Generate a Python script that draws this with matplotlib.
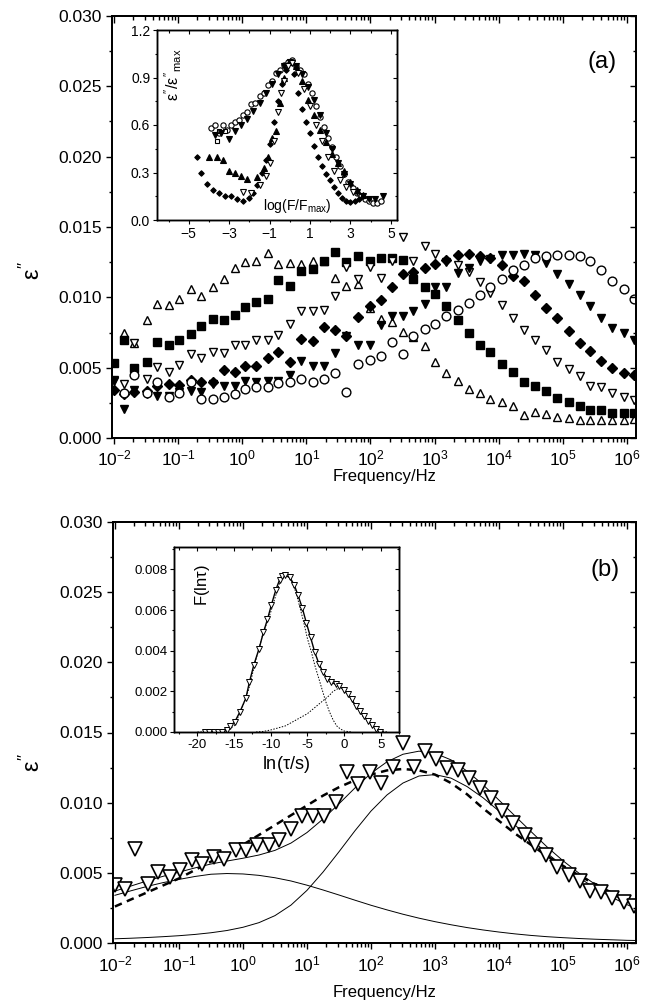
import numpy as np
import matplotlib
matplotlib.use('Agg')
import matplotlib.pyplot as plt
from matplotlib.ticker import MultipleLocator, LogLocator, NullFormatter, FixedLocator

plt.rcParams['font.family'] = ['Liberation Sans', 'DejaVu Sans']
plt.rcParams['mathtext.fontset'] = 'custom'
plt.rcParams['mathtext.rm'] = 'Liberation Sans'
plt.rcParams['mathtext.it'] = 'Liberation Sans'
plt.rcParams['mathtext.bf'] = 'Liberation Sans:bold'

# ---------------- data: panel (a) ----------------
LOGF = [-2.00, -1.85, -1.68, -1.49, -1.33, -1.14, -0.98, -0.80, -0.64, -0.46,
        -0.29, -0.11, 0.05, 0.22, 0.40, 0.56, 0.75, 0.92, 1.10, 1.27,
        1.45, 1.62, 1.80, 1.99, 2.16, 2.34, 2.50, 2.67, 2.85, 3.01,
        3.18, 3.36, 3.53, 3.71, 3.87, 4.05, 4.22, 4.40, 4.56, 4.74,
        4.91, 5.09, 5.26, 5.42, 5.60, 5.77, 5.95, 6.11]
XTICK_DECADES = [-2, -1, 0, 1, 2, 3, 4, 5, 6]

UP_OPEN = [None, 0.00746, 0.00675, 0.00841, 0.00955, 0.00948, 0.00991, 0.01059, 0.01012, 0.01073,
           0.01133, 0.01209, 0.01249, 0.01261, 0.01315, 0.01237, 0.01244, 0.01237, 0.01261, 0.01261,
           0.01137, 0.01083, 0.01097, 0.00922, 0.00846, 0.00822, 0.00751, 0.00718, 0.00656, 0.00538,
           0.00462, 0.00408, 0.00348, 0.00320, 0.00280, 0.00256, 0.00225, 0.00166, 0.00185, 0.00171,
           0.00149, 0.00142, 0.00130, 0.00126, 0.00126, 0.00126, 0.00130, 0.00137]

SQ_FILLED = [0.00533, 0.00694, 0.00498, 0.00538, 0.00680, 0.00659, 0.00699, 0.00742, 0.00799, 0.00848,
             0.00841, 0.00877, 0.00931, 0.00967, 0.00991, 0.01126, 0.01078, 0.01190, 0.01204, 0.01256,
             0.01320, 0.01249, 0.01296, 0.01256, 0.01280, 0.01280, 0.01263, 0.01130, 0.01073, 0.01024,
             0.00936, 0.00841, 0.00746, 0.00664, 0.00609, 0.00526, 0.00467, 0.00398, 0.00372, 0.00336,
             0.00284, 0.00254, 0.00225, 0.00201, 0.00197, 0.00178, 0.00178, 0.00178]

DOWN_OPEN = [0.00413, 0.00384, 0.00672, 0.00417, 0.00507, 0.00472, 0.00519, 0.00594, 0.00566, 0.00613,
             0.00601, 0.00660, 0.00660, 0.00700, 0.00700, 0.00731, 0.00809, 0.00903, 0.00903, 0.00908,
             0.01007, 0.01219, 0.01132, 0.01219, 0.01139, 0.01255, 0.01427, 0.01255, 0.01368, 0.01309,
             0.01250, 0.01231, 0.01179, 0.01108, 0.01031, 0.00943, 0.00856, 0.00771, 0.00696, 0.00625,
             0.00542, 0.00488, 0.00441, 0.00370, 0.00361, 0.00323, 0.00295, 0.00267]

DIAMOND = [0.00344, 0.00313, 0.00325, 0.00332, 0.00367, 0.00384, 0.00379, 0.00415, 0.00396, 0.00396,
           0.00486, 0.00467, 0.00514, 0.00509, 0.00569, 0.00609, 0.00538, 0.00704, 0.00687, 0.00787,
           0.00770, 0.00723, 0.00860, 0.00941, 0.00983, 0.01073, 0.01168, 0.01180, 0.01209, 0.01237,
           0.01263, 0.01303, 0.01311, 0.01296, 0.01280, 0.01232, 0.01154, 0.01114, 0.01019, 0.00924,
           0.00853, 0.00758, 0.00675, 0.00616, 0.00545, 0.00498, 0.00462, 0.00450]

DOWN_FILLED = [0.00403, 0.00206, 0.00339, 0.00315, 0.00296, 0.00296, 0.00325, 0.00332, 0.00325, 0.00386,
               0.00367, 0.00367, 0.00403, 0.00396, 0.00403, 0.00403, 0.00450, 0.00545, 0.00509, 0.00509,
               0.00604, 0.00723, 0.00664, 0.00664, 0.00806, 0.00865, 0.00870, 0.00900, 0.00955, 0.01073,
               0.01073, 0.01170, 0.01209, 0.01256, 0.01273, 0.01303, 0.01303, 0.01311, 0.01303, 0.01244,
               0.01168, 0.01097, 0.01019, 0.00936, 0.00853, 0.00782, 0.00746, 0.00700]

CIRCLE = [None, 0.00320, 0.00450, 0.00320, 0.00400, 0.00290, 0.00320, 0.00400, 0.00280, 0.00280,
          0.00290, 0.00310, 0.00350, 0.00360, 0.00360, 0.00390, 0.00400, 0.00420, 0.00400, 0.00420,
          0.00460, 0.00330, 0.00528, 0.00557, 0.00581, 0.00680, 0.00600, 0.00723, 0.00775, 0.00813,
          0.00870, 0.00908, 0.00960, 0.01019, 0.01073, 0.01130, 0.01192, 0.01232, 0.01280, 0.01296,
          0.01303, 0.01303, 0.01296, 0.01256, 0.01197, 0.01118, 0.01059, 0.00991]

# inset (a): normalised curves
IA_CIRC_X = [-3.9, -3.7, -3.5, -3.3, -3.1, -2.9, -2.7, -2.5, -2.3, -2.1, -1.9, -1.7, -1.5, -1.3, -1.1,
             -0.9, -0.7, -0.5, -0.3, -0.1, 0.1, 0.3, 0.5, 0.7, 0.9, 1.1, 1.3, 1.5, 1.7, 1.9,
             2.1, 2.3, 2.5, 2.7, 2.9, 3.1, 3.3, 3.5, 3.7, 3.9, 4.1, 4.3, 4.5]
IA_CIRC_Y = [0.58, 0.60, 0.55, 0.60, 0.57, 0.60, 0.62, 0.63, 0.66, 0.68, 0.73, 0.74, 0.78, 0.80, 0.85,
             0.88, 0.93, 0.95, 0.98, 1.00, 1.01, 0.97, 0.95, 0.92, 0.86, 0.80, 0.72, 0.65, 0.59, 0.52,
             0.46, 0.40, 0.34, 0.29, 0.24, 0.20, 0.17, 0.15, 0.13, 0.12, 0.11, 0.11, 0.12]
IA_SQ_X = [-3.6, -3.5, -3.2]
IA_SQ_Y = [0.50, 0.56, 0.56]
IA_DF1_X = [-3.7, -3.4, -3.0, -2.7, -2.4, -2.1, -1.8, -1.5, -1.2, -0.9, -0.6, -0.3, 0.0, 0.3, 0.6,
            0.9, 1.2, 1.5, 1.8, 2.1, 2.4, 2.7, 3.0, 3.3, 3.6, 3.9, 4.2, 4.6]
IA_DF1_Y = [0.54, 0.55, 0.51, 0.56, 0.60, 0.64, 0.69, 0.74, 0.80, 0.86, 0.92, 0.97, 1.00, 0.97, 0.92,
            0.84, 0.76, 0.66, 0.55, 0.45, 0.36, 0.29, 0.23, 0.18, 0.15, 0.13, 0.13, 0.15]
IA_DIA_X = [-4.6, -4.4, -4.1, -3.8, -3.5, -3.2, -2.9, -2.6, -2.3, -2.0, -1.8, -1.6, -1.4, -1.2, -1.0,
            -0.8, -0.6, -0.4, -0.2, 0.0, 0.2, 0.4, 0.6, 0.8, 1.0, 1.2, 1.4, 1.6, 1.8, 2.0,
            2.2, 2.4, 2.6, 2.8, 3.0, 3.2, 3.4]
IA_DIA_Y = [0.40, 0.30, 0.23, 0.19, 0.17, 0.15, 0.15, 0.13, 0.12, 0.14, 0.17, 0.22, 0.30, 0.38, 0.48,
            0.62, 0.75, 0.86, 0.95, 1.00, 0.92, 0.80, 0.70, 0.62, 0.55, 0.47, 0.40, 0.34, 0.29, 0.25,
            0.21, 0.17, 0.14, 0.12, 0.115, 0.12, 0.13]
IA_UPF_X = [-4.0, -3.6, -3.3, -3.0, -2.7, -2.4, -2.1, -1.6, -1.3, -1.1, -0.9, -0.7, -0.5, -0.3, 0.0,
            0.3, 0.6, 0.9, 1.2, 1.5, 1.8, 2.1, 2.4, 2.7, 3.0, 3.3, 3.6]
IA_UPF_Y = [0.40, 0.40, 0.38, 0.31, 0.30, 0.28, 0.26, 0.27, 0.33, 0.40, 0.52, 0.56, 0.74, 0.90, 1.00,
            0.97, 0.88, 0.76, 0.66, 0.57, 0.49, 0.42, 0.36, 0.31, 0.24, 0.19, 0.16]
IA_DO_X = [-2.3, -1.9, -1.5, -1.2, -1.0, -0.8, -0.6, -0.45, -0.3, -0.1, 0.1, 0.4, 0.7, 1.0, 1.3,
           1.6, 1.9, 2.2, 2.5, 2.8, 3.1]
IA_DO_Y = [0.18, 0.17, 0.22, 0.28, 0.36, 0.50, 0.68, 0.80, 0.88, 0.97, 0.99, 0.93, 0.83, 0.72, 0.60,
           0.50, 0.40, 0.31, 0.25, 0.21, 0.18]

# ---------------- data: panel (b) ----------------
CURVE_LOGF = [-2.0, -1.75, -1.5, -1.25, -1.0, -0.75, -0.5, -0.25, 0.0, 0.25, 0.5, 0.75, 1.0,
              1.25, 1.5, 1.75, 2.0, 2.25, 2.5, 2.75, 3.0, 3.25, 3.5, 3.75, 4.0, 4.25, 4.5,
              4.75, 5.0, 5.25, 5.5, 5.75, 6.0, 6.14]
COMP_LOW = [0.00340, 0.00372, 0.00403, 0.00430, 0.00453, 0.00474, 0.00490, 0.00495, 0.00492, 0.00482,
            0.00465, 0.00442, 0.00412, 0.00378, 0.00342, 0.00305, 0.00269, 0.00236, 0.00205, 0.00177,
            0.00152, 0.00130, 0.00110, 0.00093, 0.00078, 0.00065, 0.00054, 0.00045, 0.00038, 0.00032,
            0.00027, 0.00023, 0.00019, 0.00018]
COMP_HIGH = [0.00030, 0.00034, 0.00039, 0.00045, 0.00052, 0.00061, 0.00073, 0.00089, 0.00112, 0.00145,
             0.00195, 0.00270, 0.00375, 0.00505, 0.00650, 0.00800, 0.00940, 0.01055, 0.01140, 0.01190,
             0.01200, 0.01175, 0.01115, 0.01035, 0.00940, 0.00840, 0.00740, 0.00640, 0.00548, 0.00465,
             0.00392, 0.00328, 0.00273, 0.00247]
FIT_SUM = [0.00370, 0.00406, 0.00442, 0.00475, 0.00505, 0.00535, 0.00563, 0.00584, 0.00604, 0.00627,
           0.00660, 0.00712, 0.00787, 0.00883, 0.00992, 0.01105, 0.01209, 0.01291, 0.01345, 0.01367,
           0.01352, 0.01305, 0.01225, 0.01128, 0.01018, 0.00905, 0.00794, 0.00685, 0.00586, 0.00497,
           0.00419, 0.00351, 0.00292, 0.00265]
FIT_SINGLE = [0.0026, 0.0031, 0.0036, 0.0041, 0.0046, 0.0052, 0.0058, 0.0064, 0.0070, 0.0077, 0.0084,
              0.0091, 0.0098, 0.0105, 0.0111, 0.0116, 0.0120, 0.0123, 0.0124, 0.0123, 0.0120, 0.0114,
              0.0106, 0.0096, 0.0087, 0.0078, 0.0070, 0.0062, 0.0055, 0.0048, 0.0042, 0.0036, 0.0031,
              0.0027]

IB_X = [-19.0, -18.4, -17.8, -17.2, -16.6, -16.0, -15.5, -14.9, -14.2, -13.4, -12.9, -12.3, -11.6,
        -11.0, -10.45, -9.9, -9.3, -8.8, -8.4, -8.0, -7.4, -6.8, -6.3, -5.7, -5.15, -4.56, -4.0,
        -3.43, -2.9, -2.3, -1.75, -1.16, -0.62, -0.05, 0.5, 1.05, 1.6, 2.15, 2.7, 3.3, 3.85, 4.4, 4.9]
IB_Y = [0.0, 0.0, 0.0, 0.0, 0.00002, 0.00008, 0.0003, 0.0005, 0.0010, 0.00166, 0.00247, 0.00331,
        0.00409, 0.0049, 0.00554, 0.00627, 0.0070, 0.00748, 0.00768, 0.0077, 0.00761, 0.00724,
        0.00675, 0.00611, 0.00538, 0.00465, 0.00393, 0.00336, 0.00296, 0.00263, 0.00247, 0.00234,
        0.00226, 0.00207, 0.00186, 0.0016, 0.00129, 0.00102, 0.00078, 0.00053, 0.00034, 0.00015, 0.00002]
IB_C1_X = [-20, -18, -17, -16, -15, -14, -13, -12, -11, -10, -9, -8.5, -8, -7.5, -7, -6.5, -6, -5.5,
           -5, -4.5, -4, -3.5, -3, -2.5, -2, -1.5, -1, -0.5, 0, 1]
IB_C1_Y = [0.0, 0.0, 0.00001, 0.00008, 0.0003, 0.0011, 0.0021, 0.0036, 0.0049, 0.0059, 0.0071, 0.0076,
           0.0077, 0.0076, 0.0073, 0.0068, 0.0061, 0.0054, 0.0046, 0.0040, 0.0033, 0.0027, 0.0021,
           0.0015, 0.0010, 0.0006, 0.0003, 0.00015, 0.00005, 0.0]
IB_C2_X = [-12, -11, -10, -9, -8, -7, -6, -5, -4, -3, -2, -1.5, -1, -0.5, 0, 0.5, 1, 1.5, 2, 2.5,
           3, 3.5, 4, 4.5, 5, 6]
IB_C2_Y = [0.0, 0.00003, 0.0001, 0.0002, 0.0003, 0.0005, 0.0007, 0.0009, 0.0012, 0.0015, 0.0018,
           0.0020, 0.0021, 0.0022, 0.0021, 0.0019, 0.0016, 0.0013, 0.0011, 0.0008, 0.0006, 0.0004,
           0.00025, 0.0001, 0.00003, 0.0]

# ---------------- helpers ----------------
W, H = 645, 1006
PT = 72.0 / 100.0  # points per pixel at dpi 100


def arr(v):
    return np.array(v, dtype=float)


def frame(ax, xlog, xlim, ylim, xmaj, xmin, ymaj, ymin, lmaj, lmin, labelsize, lw):
    """Left/bottom ticks outward with labels, top/right ticks inward (mirrors)."""
    if xlog:
        ax.set_xscale('log')
    ax.set_xlim(*xlim)
    ax.set_ylim(*ylim)
    ax.xaxis.set_major_locator(xmaj())
    ax.xaxis.set_minor_locator(xmin())
    ax.yaxis.set_major_locator(ymaj())
    ax.yaxis.set_minor_locator(ymin())
    ax.xaxis.set_minor_formatter(NullFormatter())
    ax.tick_params(axis='both', which='both', direction='out', top=False, right=False,
                   labelsize=labelsize, width=lw, colors='black')
    ax.tick_params(axis='both', which='major', length=lmaj)
    ax.tick_params(axis='both', which='minor', length=lmin)
    for s in ax.spines.values():
        s.set_linewidth(lw * 1.2)
    axt = ax.twiny()
    if xlog:
        axt.set_xscale('log')
    axt.set_xlim(*xlim)
    axt.xaxis.set_major_locator(xmaj())
    axt.xaxis.set_minor_locator(xmin())
    axt.tick_params(axis='x', which='both', direction='in', top=True, bottom=False,
                    labeltop=False, labelbottom=False, width=lw)
    axt.tick_params(axis='x', which='major', length=lmaj * 1.1)
    axt.tick_params(axis='x', which='minor', length=lmin * 1.1)
    axr = ax.twinx()
    axr.set_ylim(*ylim)
    axr.yaxis.set_major_locator(ymaj())
    axr.yaxis.set_minor_locator(ymin())
    axr.tick_params(axis='y', which='both', direction='in', right=True, left=False,
                    labelright=False, labelleft=False, width=lw)
    axr.tick_params(axis='y', which='major', length=lmaj)
    axr.tick_params(axis='y', which='minor', length=lmin)
    for a in (axt, axr):
        for s in a.spines.values():
            s.set_linewidth(lw * 1.2)


def rect(x0, y0, x1, y1):
    return [x0 / W, 1 - y1 / H, (x1 - x0) / W, (y1 - y0) / H]


fig = plt.figure(figsize=(6.45, 10.06), dpi=100)
fig.patch.set_facecolor('white')

XLIM = (10 ** -2.03, 10 ** 6.14)
xmaj = lambda: FixedLocator([10.0 ** d for d in XTICK_DECADES])
xmin = lambda: FixedLocator([m * 10.0 ** d for d in XTICK_DECADES for m in range(2, 10)
                             if m * 10.0 ** d < XLIM[1]])
ymaj = lambda: MultipleLocator(0.005)
ymin = lambda: MultipleLocator(0.0025)
xfmt = matplotlib.ticker.FuncFormatter(lambda v, p: r'$10^{%d}$' % round(np.log10(v)))

freq = 10 ** arr(LOGF)
TICK_FS = 12.5

# ---------------- panel (a) ----------------
axa = fig.add_axes(rect(112, 16, 636, 438))
frame(axa, True, XLIM, (0, 0.030), xmaj, xmin, ymaj, ymin, 6 * PT * 1.0, 3.5 * PT, TICK_FS, 1.0)
axa.xaxis.set_major_formatter(xfmt)
axa.yaxis.set_major_formatter(matplotlib.ticker.FormatStrFormatter('%.3f'))
axa.tick_params(axis='y', which='major', pad=3)
axa.tick_params(axis='x', which='major', pad=3)

ms = 6.3
mk = dict(linestyle='none', markeredgecolor='black', markeredgewidth=1.0, zorder=3)
axa.plot(freq, arr(UP_OPEN), marker='^', markerfacecolor='white', markersize=ms, **mk)
axa.plot(freq, arr(SQ_FILLED), marker='s', markerfacecolor='black', markersize=ms - 1.0, **mk)
axa.plot(freq, arr(DOWN_OPEN), marker='v', markerfacecolor='white', markersize=ms, **mk)
axa.plot(freq, arr(DIAMOND), marker='D', markerfacecolor='black', markersize=ms - 1.5, **mk)
axa.plot(freq, arr(DOWN_FILLED), marker='v', markerfacecolor='black', markersize=ms, **mk)
axa.plot(freq, arr(CIRCLE), marker='o', markerfacecolor='white', markersize=ms, **mk)

axa.text(0.935, 0.89, '(a)', transform=axa.transAxes, fontsize=17, ha='center', va='center')
fig.text(385 / W, 1 - 476 / H, 'Frequency/Hz', fontsize=12, ha='center', va='center')
fig.text(32 / W, 1 - 270 / H, r"$ε''$", fontsize=17, ha='center', va='center', rotation=90)

# inset (a)
ia = fig.add_axes(rect(157, 30, 397, 220))
frame(ia, False, (-6.57, 5.3), (0, 1.2),
      lambda: FixedLocator([-5, -3, -1, 1, 3, 5]), lambda: MultipleLocator(1),
      lambda: MultipleLocator(0.3), lambda: MultipleLocator(0.15),
      4 * PT, 2.5 * PT, 10, 0.8)
ia.yaxis.set_major_formatter(matplotlib.ticker.FormatStrFormatter('%.1f'))
ia.tick_params(axis='both', which='major', pad=2)
ims = 3.8
imk = dict(linestyle='none', markeredgecolor='black', markeredgewidth=0.8, zorder=3)
ia.plot(arr(IA_CIRC_X), arr(IA_CIRC_Y), marker='o', markerfacecolor='white', markersize=ims, **imk)
ia.plot(arr(IA_SQ_X), arr(IA_SQ_Y), marker='s', markerfacecolor='white', markersize=ims - 0.5, **imk)
ia.plot(arr(IA_DF1_X), arr(IA_DF1_Y), marker='v', markerfacecolor='black', markersize=ims, **imk)
ia.plot(arr(IA_DIA_X), arr(IA_DIA_Y), marker='D', markerfacecolor='black', markersize=ims - 1.0, **imk)
ia.plot(arr(IA_UPF_X), arr(IA_UPF_Y), marker='^', markerfacecolor='black', markersize=ims, **imk)
ia.plot(arr(IA_DO_X), arr(IA_DO_Y), marker='v', markerfacecolor='white', markersize=ims, **imk)
ia.text(-5.75, 0.92, r"$ε''/ε''_{max}$", rotation=90, fontsize=11.5, ha='center', va='center')
ia.text(0.35, 0.09, r"log(F/F$_{max}$)", fontsize=10, ha='center', va='center')

# ---------------- panel (b) ----------------
axb = fig.add_axes(rect(113, 522, 636, 943))
frame(axb, True, XLIM, (0, 0.030), xmaj, xmin, ymaj, ymin, 6 * PT, 3.5 * PT, TICK_FS, 1.0)
axb.xaxis.set_major_formatter(xfmt)
axb.yaxis.set_major_formatter(matplotlib.ticker.FormatStrFormatter('%.3f'))
axb.tick_params(axis='y', which='major', pad=3)
axb.tick_params(axis='x', which='major', pad=4)

cf = 10 ** arr(CURVE_LOGF)
axb.plot(cf, arr(COMP_LOW), color='black', lw=0.7, zorder=2)
axb.plot(cf, arr(COMP_HIGH), color='black', lw=0.7, zorder=2)
axb.plot(cf, arr(FIT_SUM), color='black', lw=0.7, zorder=2)
axb.plot(cf, arr(FIT_SINGLE), color='black', lw=1.8, dashes=(3.0, 2.2), zorder=2)
axb.plot(freq, arr(DOWN_OPEN), linestyle='none', marker='v', markerfacecolor='white',
         markeredgecolor='black', markeredgewidth=1.2, markersize=10, zorder=3)

axb.text(0.94, 0.886, '(b)', transform=axb.transAxes, fontsize=17, ha='center', va='center')
fig.text(385 / W, 1 - 993 / H, 'Frequency/Hz', fontsize=12, ha='center', va='center')
fig.text(32 / W, 1 - 762 / H, r"$ε''$", fontsize=17, ha='center', va='center', rotation=90)

# inset (b)
ib = fig.add_axes(rect(174, 547, 399, 732))
frame(ib, False, (-23.2, 7.5), (0, 0.0091),
      lambda: MultipleLocator(5), lambda: MultipleLocator(2.5),
      lambda: MultipleLocator(0.002), lambda: MultipleLocator(0.001),
      4 * PT, 2.5 * PT, 9.5, 0.8)
ib.yaxis.set_major_formatter(matplotlib.ticker.FormatStrFormatter('%.3f'))
ib.xaxis.set_major_formatter(matplotlib.ticker.FuncFormatter(lambda v, p: '%d' % v))
ib.tick_params(axis='both', which='major', pad=2)
ib.plot(arr(IB_C1_X), arr(IB_C1_Y), color='black', lw=0.7, linestyle=(0, (1.5, 1.5)), zorder=2)
ib.plot(arr(IB_C2_X), arr(IB_C2_Y), color='black', lw=0.7, linestyle=(0, (1.5, 1.5)), zorder=2)
ib.plot(arr(IB_X), arr(IB_Y), color='black', lw=1.0, marker='v', markerfacecolor='white',
        markeredgecolor='black', markeredgewidth=0.7, markersize=4, zorder=3)
ib.text(-19.3, 0.0072, r'F(ln$τ$)', rotation=90, fontsize=12, ha='center', va='center')
ib.set_xlabel(r'ln($τ$/s)', fontsize=13, labelpad=2)

fig.savefig('out.png', dpi=100, facecolor='white')
